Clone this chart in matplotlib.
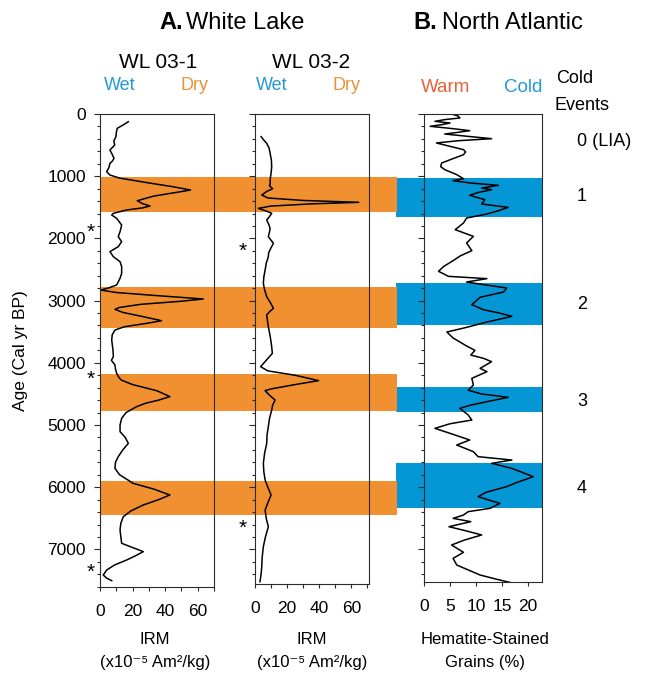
import matplotlib
matplotlib.use("Agg")
import matplotlib.pyplot as plt
import matplotlib.transforms as mtransforms
from matplotlib.patches import Rectangle
from matplotlib.ticker import MultipleLocator

plt.rcParams['font.family'] = ['Liberation Sans', 'DejaVu Sans']

# --- data ---------------------------------------------------------------
# WL 03-1 IRM (x10^-5 Am2/kg) vs age (cal yr BP)
wl1_age = [124, 180, 230, 300, 365, 430, 500, 579, 650, 713, 760, 793, 860, 927, 981,
           1030, 1100, 1170, 1222, 1260, 1320, 1394, 1440, 1479, 1510, 1543, 1597, 1624,
           1677, 1785, 1892, 1972, 2053, 2133, 2213, 2294, 2374, 2454, 2562, 2642, 2749,
           2790, 2830, 2870, 2920, 2974, 3010, 3060, 3110, 3140, 3190, 3250, 3323, 3360,
           3420, 3473, 3550, 3633, 3700, 3800, 3901, 3960, 4035, 4100, 4169, 4230, 4277,
           4350, 4450, 4544, 4600, 4650, 4705, 4800, 4893, 5000, 5107, 5200, 5295, 5400,
           5509, 5600, 5697, 5800, 5938, 6030, 6125, 6200, 6286, 6380, 6474, 6580, 6688,
           6800, 6902, 6970, 7036, 7100, 7170, 7250, 7331, 7412, 7460, 7503]
wl1_irm = [17.4, 14.0, 10.6, 10.0, 9.8, 8.5, 9.0, 6.1, 7.5, 8.6, 7.5, 6.1, 5.5, 4.1, 6.1,
           12.0, 28.0, 45.0, 55.6, 47.0, 33.0, 22.9, 26.0, 30.7, 26.0, 16.4, 8.2, 7.2,
           10.2, 13.3, 12.3, 11.2, 13.3, 11.2, 6.1, 8.2, 12.3, 13.3, 13.3, 12.3, 10.2,
           6.0, 0.5, 10.0, 35.0, 63.4, 50.0, 25.0, 12.0, 9.2, 14.0, 25.0, 37.8, 30.0,
           15.0, 9.2, 7.5, 7.2, 7.5, 8.0, 8.2, 7.0, 9.2, 9.5, 10.2, 11.5, 13.0,
           20.0, 35.0, 42.9, 36.0, 28.0, 22.5, 16.0, 13.3, 12.3, 12.3, 15.5, 17.4, 14.0,
           11.2, 9.5, 9.2, 12.0, 20.4, 33.0, 42.9, 36.0, 26.6, 19.0, 14.3, 12.8, 12.3,
           12.8, 13.3, 20.0, 26.6, 22.0, 16.4, 9.0, 4.1, 2.0, 4.0, 7.2]

# WL 03-2 IRM vs age
wl2_age = [364, 420, 472, 550, 632, 740, 847, 950, 1061, 1120, 1153, 1200, 1250, 1302,
           1350, 1390, 1420, 1445, 1480, 1517, 1560, 1597, 1650, 1704, 1770, 1838, 1900,
           1972, 2030, 2079, 2150, 2230, 2294, 2400, 2508, 2620, 2722, 2830, 2937, 3030,
           3124, 3180, 3231, 3330, 3419, 3580, 3741, 3848, 3960, 4062, 4130, 4200, 4287,
           4350, 4420, 4448, 4520, 4598, 4680, 4759, 4900, 5027, 5160, 5295, 5450, 5616,
           5750, 5884, 6000, 6125, 6250, 6367, 6500, 6635, 6800, 6956, 7120, 7278, 7400,
           7519]
wl2_irm = [3.8, 5.5, 7.3, 8.8, 9.4, 10.2, 10.4, 10.0, 9.4, 9.5, 9.0, 11.0, 7.0, 4.2,
           8.0, 30.0, 64.6, 35.0, 10.0, 2.1, 7.0, 10.4, 9.0, 7.3, 8.5, 9.4, 9.0,
           8.3, 10.0, 11.5, 10.0, 8.5, 8.3, 7.0, 6.3, 5.5, 5.2, 6.0, 7.3, 9.5,
           11.5, 9.0, 7.3, 7.8, 8.3, 9.5, 10.4, 10.8, 7.0, 3.5, 8.0, 25.0, 39.6,
           25.0, 10.0, 6.3, 9.0, 12.5, 11.0, 10.4, 9.0, 8.3, 7.5, 7.3, 6.0, 5.2,
           5.5, 6.3, 8.0, 10.0, 8.0, 6.3, 7.0, 8.3, 6.5, 5.2, 4.5, 4.2, 3.8,
           3.1]

# North Atlantic hematite-stained grains (%) vs age
na_age = [0, 30, 64, 90, 118, 145, 170, 198, 235, 268, 295, 322, 360, 397, 430, 466,
          520, 573, 610, 654, 720, 788, 845, 895, 975, 1040, 1072, 1110,
          1147, 1190, 1217, 1260, 1308, 1377, 1447, 1501, 1550, 1608, 1672, 1752, 1860,
          1967, 2074, 2197, 2280, 2358, 2450, 2529, 2610, 2647, 2701, 2750, 2797, 2862,
          2947, 3065, 3146, 3200, 3253, 3300, 3344, 3430, 3505, 3601, 3730, 3800, 3875,
          3930, 3982, 4089, 4143, 4250, 4357, 4440, 4500, 4555, 4625, 4680, 4732, 4839,
          4920, 4980, 5054, 5134, 5241, 5322, 5429, 5509, 5563, 5616, 5700, 5831, 5920,
          5991, 6080, 6152, 6220, 6260, 6340, 6393, 6447, 6501, 6554, 6635, 6700, 6768,
          6849, 6929, 7047, 7144, 7251, 7330, 7412, 7470, 7519, 7530]
na_pct = [5.3, 6.5, 6.9, 4.0, 2.1, 5.0, 3.5, 1.2, 5.5, 8.8, 6.5, 4.0, 8.5, 13.0, 6.5, 2.4,
          5.0, 7.6, 8.0, 7.6, 5.5, 3.4, 3.2, 4.0, 6.3, 7.6, 5.6, 9.0,
          14.3, 11.1, 13.0, 10.5, 8.8, 11.7, 11.1, 16.2, 14.5, 12.1, 8.2, 7.6, 6.0,
          9.5, 8.2, 9.2, 7.0, 5.6, 3.8, 2.8, 4.7, 12.1, 8.2, 12.0, 15.9, 15.3,
          10.8, 9.2, 11.4, 14.5, 16.9, 14.5, 12.1, 8.2, 4.4, 5.6, 8.2, 9.8, 9.0,
          11.5, 13.0, 10.8, 12.1, 9.2, 9.5, 8.5, 11.0, 16.2, 12.1, 9.0, 6.9, 8.5,
          9.2, 5.0, 2.1, 5.0, 8.8, 6.3, 9.5, 10.4, 16.9, 13.0, 17.0, 21.0, 18.0,
          15.9, 12.0, 10.4, 13.0, 14.6, 12.7, 8.5, 7.6, 5.6, 9.0, 4.8, 8.0, 11.1,
          7.8, 5.3, 7.6, 5.6, 6.3, 8.5, 10.8, 13.5, 15.9, 16.5]

dry_bands = [(1020, 1570), (2775, 3435), (4185, 4780), (5895, 6440)]
cold_bands = [(1035, 1650), (2710, 3390), (4385, 4785), (5615, 6330)]
cold_events = ['0 (LIA)', '1', '2', '3', '4']
cold_event_ages = [435, 1320, 3055, 4615, 6015]
wl1_star_ages = [1810, 4170, 7280]
wl2_star_ages = [2120, 6570]

age_ticks = [0, 1000, 2000, 3000, 4000, 5000, 6000, 7000]
irm_ticks = [0, 20, 40, 60]
hem_ticks = [0, 5, 10, 15, 20]

# --- layout (pixels of the 647x675 canvas) --------------------------------
W, H = 647, 675
TOP = 114
PX_PER_YR = 0.0622
ORANGE = '#F09030'
BLUE = '#0596D6'
WET_C = '#2399D6'
DRY_C = '#E8923A'
WARM_C = '#E6603A'
SPINE_C = '#2a2a2a'


def fx(px):
    return px / W


def fy(py):
    return 1 - py / H


fig = plt.figure(figsize=(W / 100, H / 100), dpi=100)


def make_axes(left, right, bottom):
    ax = fig.add_axes([fx(left), fy(bottom), fx(right) - fx(left), fy(TOP) - fy(bottom)])
    ax.set_facecolor('none')
    ax.set_ylim((bottom - TOP) / PX_PER_YR, 0)
    for s in ax.spines.values():
        s.set_color(SPINE_C)
        s.set_linewidth(0.8)
    ax.yaxis.set_major_locator(MultipleLocator(1000))
    ax.yaxis.set_minor_locator(MultipleLocator(200))
    ax.tick_params(axis='both', which='both', direction='out', color=SPINE_C,
                   width=0.8, labelsize=12.5, top=False, right=False)
    ax.tick_params(axis='y', which='major', length=4, pad=6)
    ax.tick_params(axis='y', which='minor', length=2.5)
    ax.tick_params(axis='x', which='both', length=3, pad=9)
    return ax


ax1 = make_axes(100, 214, 587)
ax2 = make_axes(255, 369, 584)
ax3 = make_axes(424, 542, 582)

ax1.plot(wl1_irm, wl1_age, color='black', lw=1.1, solid_joinstyle='round')
ax2.plot(wl2_irm, wl2_age, color='black', lw=1.1, solid_joinstyle='round')
ax3.plot(na_pct, na_age, color='black', lw=1.1, solid_joinstyle='round')

for ax, xmax in [(ax1, 70), (ax2, 71)]:
    ax.set_xlim(0, xmax)
    ax.set_xticks(irm_ticks)
    ax.xaxis.set_minor_locator(MultipleLocator(10))
ax3.set_xlim(0, 22.7)
ax3.set_xticks(hem_ticks)

ax1.set_yticks(age_ticks)
ax1.set_ylabel('Age (Cal yr BP)', fontsize=12.5, labelpad=14)
ax2.tick_params(axis='y', labelleft=False)
ax3.tick_params(axis='y', labelleft=False)

# asterisks marking dated levels
for ax, ages, xa in [(ax1, wl1_star_ages, -0.08), (ax2, wl2_star_ages, -0.105)]:
    for a in ages:
        ax.annotate('*', xy=(xa, a), xycoords=ax.get_yaxis_transform(),
                    xytext=(0, -8), textcoords='offset points',
                    ha='center', va='baseline', fontsize=15, annotation_clip=False)

# shaded dry / cold bands spanning across the panels
trans = mtransforms.blended_transform_factory(fig.transFigure, ax1.transData)
for a0, a1 in cold_bands:
    fig.add_artist(Rectangle((fx(396), a0), fx(542) - fx(396), a1 - a0,
                             transform=trans, color=BLUE, lw=0, zorder=-2))
for a0, a1 in dry_bands:
    fig.add_artist(Rectangle((fx(100), a0), fx(397) - fx(100), a1 - a0,
                             transform=trans, color=ORANGE, lw=0, zorder=-1))

# cold event numbers
for lab, a in zip(cold_events, cold_event_ages):
    fig.text(fx(577), fy(TOP + a * PX_PER_YR), lab, ha='left', va='center', fontsize=13)

# headers
fig.text(fx(159), fy(29), 'A.', fontsize=17, fontweight='bold', va='baseline')
fig.text(fx(186), fy(29), 'White Lake', fontsize=17, va='baseline')
fig.text(fx(413), fy(29), 'B.', fontsize=17, fontweight='bold', va='baseline')
fig.text(fx(442), fy(29), 'North Atlantic', fontsize=17, va='baseline')

fig.text(fx(158), fy(67.5), 'WL 03-1', fontsize=15, ha='center', va='baseline')
fig.text(fx(311), fy(67.5), 'WL 03-2', fontsize=15, ha='center', va='baseline')
for xc_wet, xc_dry in [(120, 195), (272, 347)]:
    fig.text(fx(xc_wet), fy(90.5), 'Wet', color=WET_C, fontsize=13, ha='center', va='baseline')
    fig.text(fx(xc_dry), fy(90.5), 'Dry', color=DRY_C, fontsize=13, ha='center', va='baseline')
fig.text(fx(446), fy(91.5), 'Warm', color=WARM_C, fontsize=13.5, ha='center', va='baseline')
fig.text(fx(523), fy(91.5), 'Cold', color=WET_C, fontsize=13.5, ha='center', va='baseline')
fig.text(fx(556), fy(83), 'Cold', fontsize=13, ha='left', va='baseline')
fig.text(fx(554), fy(110), 'Events', fontsize=13, ha='left', va='baseline')

# axis titles under the panels
for xc in [155, 312]:
    fig.text(fx(xc), fy(644), 'IRM', fontsize=12, ha='center', va='baseline')
    fig.text(fx(xc), fy(667), '(x10\u207b\u2075 Am\u00b2/kg)', fontsize=12,
             ha='center', va='baseline')
fig.text(fx(485), fy(644), 'Hematite-Stained', fontsize=12, ha='center', va='baseline')
fig.text(fx(485), fy(667), 'Grains (%)', fontsize=12, ha='center', va='baseline')

fig.savefig('out.png', dpi=100)
